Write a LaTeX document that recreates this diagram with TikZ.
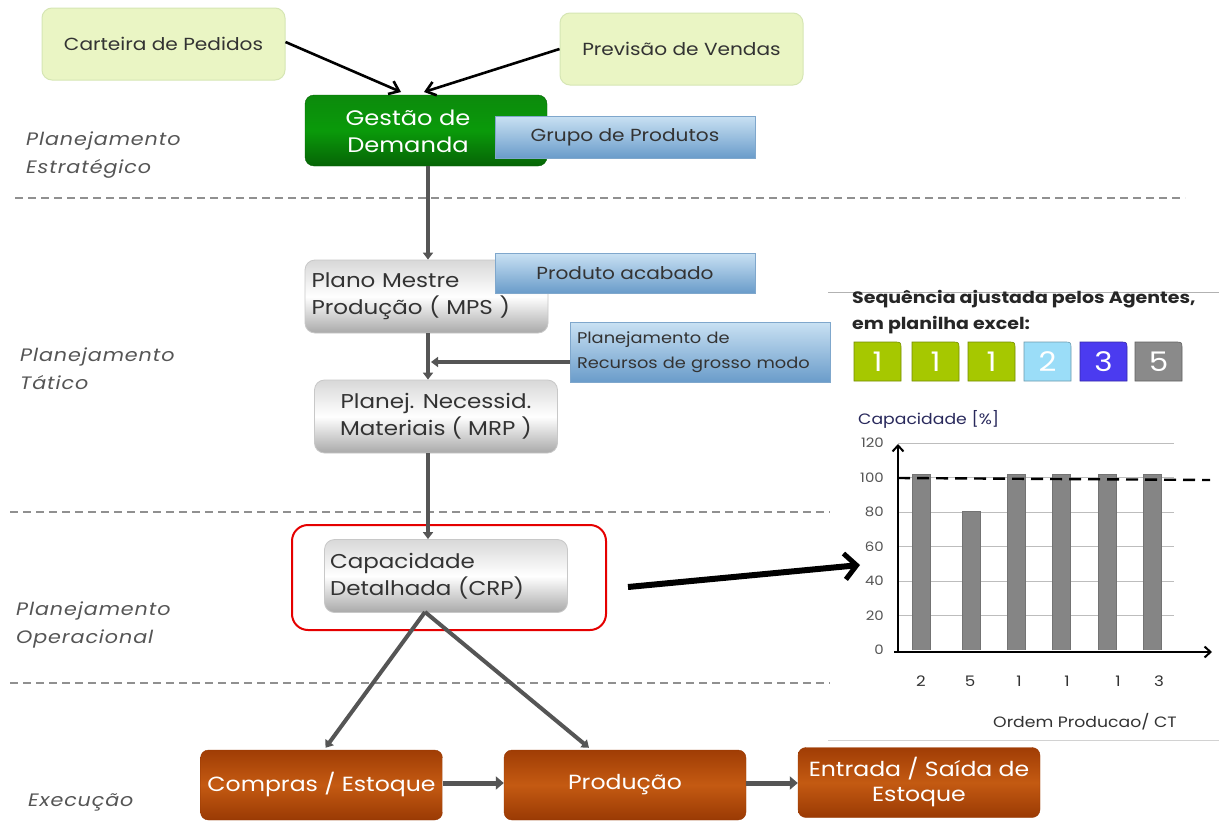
\documentclass[tikz,border=0pt]{standalone}
\usepackage{fontspec}
\setmainfont{Poppins}[FakeStretch=1.15]
\usetikzlibrary{arrows.meta,calc}

\definecolor{paleFill}{HTML}{EAF5C4}
\definecolor{paleLine}{HTML}{D6E6B4}
\definecolor{txtDark}{HTML}{333333}
\definecolor{greenTop}{HTML}{0C8A0C}
\definecolor{greenMid}{HTML}{0A9A0A}
\definecolor{greenBot}{HTML}{066406}
\definecolor{blueTop}{HTML}{C9E1F3}
\definecolor{blueBot}{HTML}{6A9CCA}
\definecolor{blueLine}{HTML}{7FA7CC}
\definecolor{greyTop}{HTML}{D8D8D8}
\definecolor{greyBot}{HTML}{A9A9A9}
\definecolor{greyLine}{HTML}{C8C8C8}
\definecolor{rustTop}{HTML}{A03D05}
\definecolor{rustMid}{HTML}{C45A12}
\definecolor{rustBot}{HTML}{9A3A04}
\definecolor{connGrey}{HTML}{555555}
\definecolor{dashGrey}{HTML}{909090}
\definecolor{levelGrey}{HTML}{555555}
\definecolor{tabGreen}{HTML}{A6C800}
\definecolor{tabSky}{HTML}{9BDDF8}
\definecolor{tabBlue}{HTML}{4B3BF0}
\definecolor{tabGrey}{HTML}{8A8A8A}
\definecolor{barGrey}{HTML}{858585}
\definecolor{gridGrey}{HTML}{BDBDBD}
\definecolor{axisLbl}{HTML}{555555}

\tikzset{
  inputbox/.style={draw=paleLine, line width=1pt, fill=paleFill, rounded corners=10pt,
    minimum width=243pt, minimum height=72pt, inner sep=0pt, text=txtDark,
    font=\fontsize{17.5}{21}\selectfont},
  demandbox/.style={draw=greenBot, rounded corners=9pt, top color=greenTop,
    bottom color=greenBot, middle color=greenMid, minimum width=242pt,
    minimum height=71pt, inner sep=0pt},
  demandtext/.style={text=white, align=center, inner sep=0pt,
    font=\fontsize{21}{27}\selectfont},
  notebox/.style={draw=blueLine, line width=0.8pt, top color=blueTop, bottom color=blueBot,
    minimum width=260pt, inner sep=0pt, text=txtDark, font=\fontsize{17.5}{24}\selectfont},
  planbox/.style={draw=greyLine, line width=0.8pt, rounded corners=10pt, top color=greyTop,
    bottom color=greyBot, middle color=white, minimum width=243pt, minimum height=73pt,
    inner sep=0pt, text=txtDark, font=\fontsize{20}{27}\selectfont},
  execbox/.style={draw=rustBot, rounded corners=8pt, top color=rustTop, bottom color=rustBot,
    middle color=rustMid, minimum width=242pt, minimum height=70pt, inner sep=0pt,
    text=white, align=center, font=\fontsize{20.5}{25}\selectfont},
  levellabel/.style={anchor=north west, align=left, text=levelGrey, inner sep=0pt,
    font=\fontsize{18}{28}\selectfont\itshape\addfontfeature{LetterSpace=5}},
  darkflow/.style={draw=black, line width=2.6pt, -{Straight Barb[length=9pt,width=14pt,line width=2.6pt]}},
  greyflow/.style={draw=connGrey, line width=4pt, -{Triangle[length=7pt,width=10pt]}},
  tierline/.style={draw=dashGrey, line width=2pt, dash pattern=on 8pt off 5pt},
  tab/.style={draw=#1!70!black, line width=0.6pt, fill=#1},
  tabnum/.style={text=white, font=\fontsize{27}{27}\selectfont},
  ticklbl/.style={anchor=east, text=axisLbl, inner sep=0pt, font=\fontsize{13}{13}\selectfont},
  catlbl/.style={text=txtDark, inner sep=0pt, font=\fontsize{14.5}{14.5}\selectfont},
}

\begin{document}
\begin{tikzpicture}[x=1pt, y=-1pt]
  \useasboundingbox[fill=white] (0,0) rectangle (1219,822);

  % tier separators
  \draw[tierline] (15,198) -- (1185,198);
  \draw[tierline] (10,512) -- (830,512);
  \draw[tierline] (10,683) -- (830,683);

  % tier names
  \node[levellabel] (lvlA) at (26,132) {Planejamento\\Estratégico};
  \node[levellabel] (lvlB) at (20,348) {Planejamento\\Tático};
  \node[levellabel] (lvlC) at (16,602) {Planejamento\\Operacional};
  \node[levellabel] (lvlD) at (28,793) {Execução};

  % strategic level
  \node[inputbox] (orders) at (163.5,44) {Carteira de Pedidos};
  \node[inputbox] (forecast) at (681.5,49) {Previsão de Vendas};
  \node[demandbox] (demand) at (426,130.5) {};
  \node[demandtext] (demandLbl) at (408,131) {Gestão de\\Demanda};
  \node[notebox, minimum height=42pt] (family) at (625,137) {Grupo de Produtos};

  \coordinate (demIn1) at (401,92);
  \coordinate (demIn2) at (424,92);
  \draw[darkflow] (orders.east |- 0,42) -- (demIn1);
  \draw[darkflow] (forecast.west) -- (demIn2);

  % tactical level
  \node[planbox, align=left, text width=230pt] (mps) at (426.5,296.5)
    {Plano Mestre\\Produção ( MPS )};
  \node[notebox, minimum height=40pt] (finished) at (625,273) {Produto acabado};
  \node[planbox, align=center] (mrp) at (436,416.5)
    {Planej. Necessid.\\Materiais ( MRP )};
  \node[notebox, minimum height=60pt, align=left, text width=246pt,
        font=\fontsize{15.5}{25}\selectfont] (rccp) at (700,352)
    {Planejamento de\\Recursos de grosso modo};

  \draw[greyflow] (demand.south -| 428,0) -- (mps.north -| 428,0);
  \draw[greyflow] (mps.south -| 428,0) -- (mrp.north -| 428,0);
  \draw[greyflow, line width=3.5pt] ($(rccp.west)+(0,10)$) -- (431,362);

  % operational level
  \node[draw=red!90!black, line width=2pt, rounded corners=16pt, minimum width=314pt,
        minimum height=105pt, inner sep=0pt] (focus) at (449,577.5) {};
  \node[planbox, align=left, text width=232pt] (crp) at (446,576)
    {Capacidade\\Detalhada (CRP)};
  \draw[greyflow] (mrp.south -| 428,0) -- (crp.north -| 428,0);

  % execution level
  \node[execbox] (buy) at (321.5,785) {Compras / Estoque};
  \node[execbox] (make) at (625,785) {Produção};
  \node[execbox] (stock) at (919,782.5) {Entrada / Saída de\\Estoque};

  \coordinate (crpFoot) at (425,612);
  \draw[greyflow] (crpFoot) -- ($(buy.north)+(4,-2)$);
  \draw[greyflow] (crpFoot) -- ($(make.north)+(-36,-2)$);
  \draw[greyflow, line width=5pt, -{Triangle[length=8pt,width=13pt]}] (buy.east |- 0,783) -- (make.west |- 0,783);
  \draw[greyflow, line width=5pt, -{Triangle[length=8pt,width=13pt]}] (make.east |- 0,783) -- (stock.west |- 0,783);

  % sequence panel
  \draw[draw=gray!60, line width=0.8pt] (828,292) -- (1219,292);
  \draw[draw=gray!35, line width=0.8pt] (828,740) -- (1219,740);
  \node[anchor=north west, align=left, inner sep=0pt, text=black!85,
        font=\fontsize{16.5}{26}\selectfont\bfseries] (seqTitle) at (852,290)
    {Sequência ajustada pelos Agentes,\\em planilha excel:};

  \foreach \xa/\col/\num [count=\i] in {854/tabGreen/1, 912/tabGreen/1, 968/tabGreen/1,
      1024/tabSky/2, 1080/tabBlue/3, 1135/tabGrey/5} {
    \path[tab=\col] (\xa,381) -- (\xa,342) -- (\xa+40,342)
       .. controls (\xa+47,342) .. (\xa+47,349) -- (\xa+47,381) -- cycle;
    \node[tabnum] (tab\i) at (\xa+23.5,362) {\num};
  }

  % capacity chart
  \node[anchor=west, inner sep=0pt, text=txtDark!80!blue, font=\fontsize{15}{15}\selectfont]
    (capTitle) at (858,419) {Capacidade [\%]};
  \foreach \v [count=\k from 0] in {0,20,40,60,80,100,120} {
    \pgfmathsetmacro{\yy}{650-\v*1.725}
    \ifnum\k>0 \draw[gridGrey, line width=0.8pt] (898,\yy) -- (1174,\yy); \fi
    \node[ticklbl] (tick\k) at (884,\yy) {\v};
  }
  \foreach \xa/\h/\lx/\lbl [count=\i] in {912/102/921/2, 962/80.5/970/5, 1007/102/1019/1,
      1052/102/1067/1, 1098/102/1118/1, 1143/102/1159/3} {
    \fill[barGrey] (\xa,650) rectangle (\xa+18,650-\h*1.725);
    \draw[black!55, line width=0.6pt] (\xa,650) -- (\xa,650-\h*1.725) -- (\xa+18,650-\h*1.725) -- (\xa+18,650);
    \node[catlbl] (cat\i) at (\lx,681) {\lbl};
  }
  \coordinate (origin) at (898,652);
  \draw[black, line width=2pt, -{Straight Barb[length=6pt,width=11pt,line width=2pt]}]
    (origin) -- (898,444);
  \draw[black, line width=2pt, -{Straight Barb[length=6pt,width=11pt,line width=2pt]}]
    (894,652) -- (1212,652);
  \draw[black, line width=2.4pt, dash pattern=on 12pt off 7pt] (898,478) -- (1210,480);
  \node[anchor=center, inner sep=0pt, text=txtDark, font=\fontsize{15}{15}\selectfont]
    (axisTitle) at (1085,722) {Ordem Producao/ CT};

  % CRP feeds the chart
  \coordinate (chartIn) at (860,565);
  \draw[black, line width=6pt, -{Straight Barb[length=12pt,width=26pt,line width=5pt]}]
    (628,587) -- (chartIn);
\end{tikzpicture}
\end{document}
